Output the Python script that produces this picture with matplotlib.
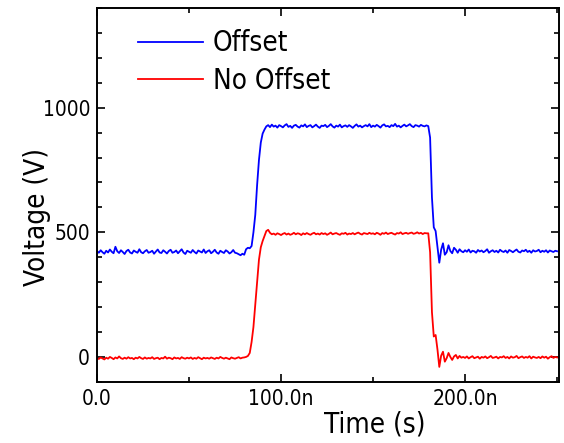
import numpy as np
import matplotlib
matplotlib.use("Agg")
import matplotlib.pyplot as plt
from matplotlib.ticker import MultipleLocator, FuncFormatter

# time grid: 0 .. 250 ns, 1 ns step
time_ns = np.arange(0, 251)

offset_v = [
    425, 418, 428, 420, 414, 426, 419, 431, 422, 416,
    442, 424, 417, 428, 421, 413, 425, 430, 419, 415,
    427, 422, 418, 432, 420, 416, 424, 429, 418, 421,
    426, 414, 423, 431, 419, 417, 428, 422, 415, 425,
    430, 418, 421, 427, 416, 424, 432, 419, 413, 426,
    422, 418, 429, 421, 415, 427, 423, 419, 431, 417,
    424, 428, 416, 422, 430, 419, 414, 426, 421, 417,
    428, 423, 415, 420, 429, 418, 416, 412, 408, 414,
    410, 432, 438, 436, 445, 500, 570, 690, 790, 860,
    896, 912, 925, 930, 922, 932, 924, 928, 920, 930,
    926, 921, 929, 934, 923, 927, 919, 928, 931, 924,
    920, 929, 925, 933, 922, 927, 930, 921, 926, 932,
    924, 919, 928, 926, 931, 922, 927, 934, 925, 920,
    928, 924, 932, 921, 926, 929, 923, 930, 925, 919,
    927, 933, 924, 928, 921, 926, 930, 925, 934, 922,
    928, 924, 931, 926, 920, 929, 933, 925, 927, 922,
    930, 926, 935, 924, 928, 921, 927, 932, 925, 929,
    934, 926, 922, 930, 928, 924, 931, 927, 925, 929,
    926, 880, 640, 520, 505, 440, 378, 430, 456, 410,
    420, 448, 425, 416, 438, 430, 418, 432, 424, 420,
    428, 422, 431, 419, 426, 424, 418, 429, 423, 427,
    420, 425, 432, 418, 424, 428, 421, 426, 419, 430,
    424, 421, 427, 418, 429, 425, 420, 426, 431, 422,
    419, 427, 424, 430, 421, 426, 418, 428, 423, 425,
    430, 420, 426, 422, 428, 419, 427, 424, 421, 426,
    424,
]

no_offset_v = [
    -5, -8, -2, -6, -10, -3, -7, 0, -4, -9,
    -2, -6, 2, -5, -8, -3, -7, -1, -6, -4,
    -9, -3, -6, 0, -5, -8, -2, -7, -4, -6,
    -1, -8, -5, -3, -9, -4, -6, 1, -7, -3,
    -5, -9, -2, -6, -4, -8, -1, -5, -7, -3,
    -6, -2, -8, -4, -7, -1, -5, -9, -3, -6,
    -4, -7, -2, -5, -8, -3, -6, 0, -4, -7,
    -3, -6, -9, -2, -5, -7, -4, -1, -6, -3,
    -2, 0, 4, 16, 60, 120, 210, 300, 390, 440,
    465, 485, 505, 510, 498, 492, 495, 490, 496, 493,
    489, 494, 497, 491, 495, 490, 493, 498, 492, 496,
    494, 489, 496, 492, 497, 493, 490, 495, 498, 492,
    495, 491, 497, 493, 496, 490, 494, 499, 492, 495,
    497, 493, 490, 496, 494, 498, 491, 495, 493, 497,
    492, 496, 499, 494, 491, 497, 495, 493, 498, 494,
    496, 492, 498, 495, 490, 497, 494, 499, 493, 496,
    498, 494, 491, 497, 495, 500, 493, 496, 498, 494,
    497, 499, 494, 496, 500, 495, 498, 493, 497, 496,
    496, 420, 180, 82, 88, 30, -40, 5, 21, -19,
    -5, 16, 0, -12, 2, 8, -6, 4, -3, 0,
    -4, 2, -6, -1, 3, -5, -2, 1, -7, 0,
    -3, 2, -5, -1, 4, -4, -2, 1, -6, 0,
    -2, 3, -4, 0, -6, 2, -3, -1, 4, -5,
    -1, 2, -4, 0, -3, 3, -6, 1, -2, -4,
    0, -5, 2, -3, 1, -7, -1, 3, -4, 0,
    -2,
]

plt.rcParams['font.family'] = ['DejaVu Sans']
plt.rcParams['font.stretch'] = 'condensed'

t = time_ns * 1e-9

fig = plt.figure(figsize=(5.64, 4.43), dpi=100)
ax = fig.add_axes([0.172, 0.138, 0.819, 0.844])

ax.plot(t, offset_v, color='#0000ff', lw=1.3, label='Offset')
ax.plot(t, no_offset_v, color='#ff0000', lw=1.3, label='No Offset')

ax.set_xlim(0, 251e-9)
ax.set_ylim(-100, 1400)

ax.xaxis.set_major_locator(MultipleLocator(100e-9))
ax.xaxis.set_minor_locator(MultipleLocator(50e-9))
ax.yaxis.set_major_locator(MultipleLocator(500))
ax.yaxis.set_minor_locator(MultipleLocator(100))


def fmt_time(x, pos):
    if abs(x) < 1e-12:
        return '0.0'
    return '%.1fn' % (x * 1e9)


ax.xaxis.set_major_formatter(FuncFormatter(fmt_time))

ax.tick_params(which='both', direction='in', top=True, right=True,
               labelsize=15, width=1.2)
ax.tick_params(which='major', length=6, pad=5)
ax.tick_params(which='minor', length=3.5)
for s in ax.spines.values():
    s.set_linewidth(1.4)

ax.set_xlabel('Time (s)', fontsize=20)
ax.set_ylabel('Voltage (V)', fontsize=20)
ax.xaxis.set_label_coords(0.602, -0.076)
ax.yaxis.set_label_coords(-0.10, 0.44)

ax.legend(loc='upper left', bbox_to_anchor=(0.088, 0.943), frameon=False,
          fontsize=20, handlelength=2.35, handletextpad=0.35,
          labelspacing=0.34, borderaxespad=0, borderpad=0)

fig.savefig('out.png', dpi=100)
